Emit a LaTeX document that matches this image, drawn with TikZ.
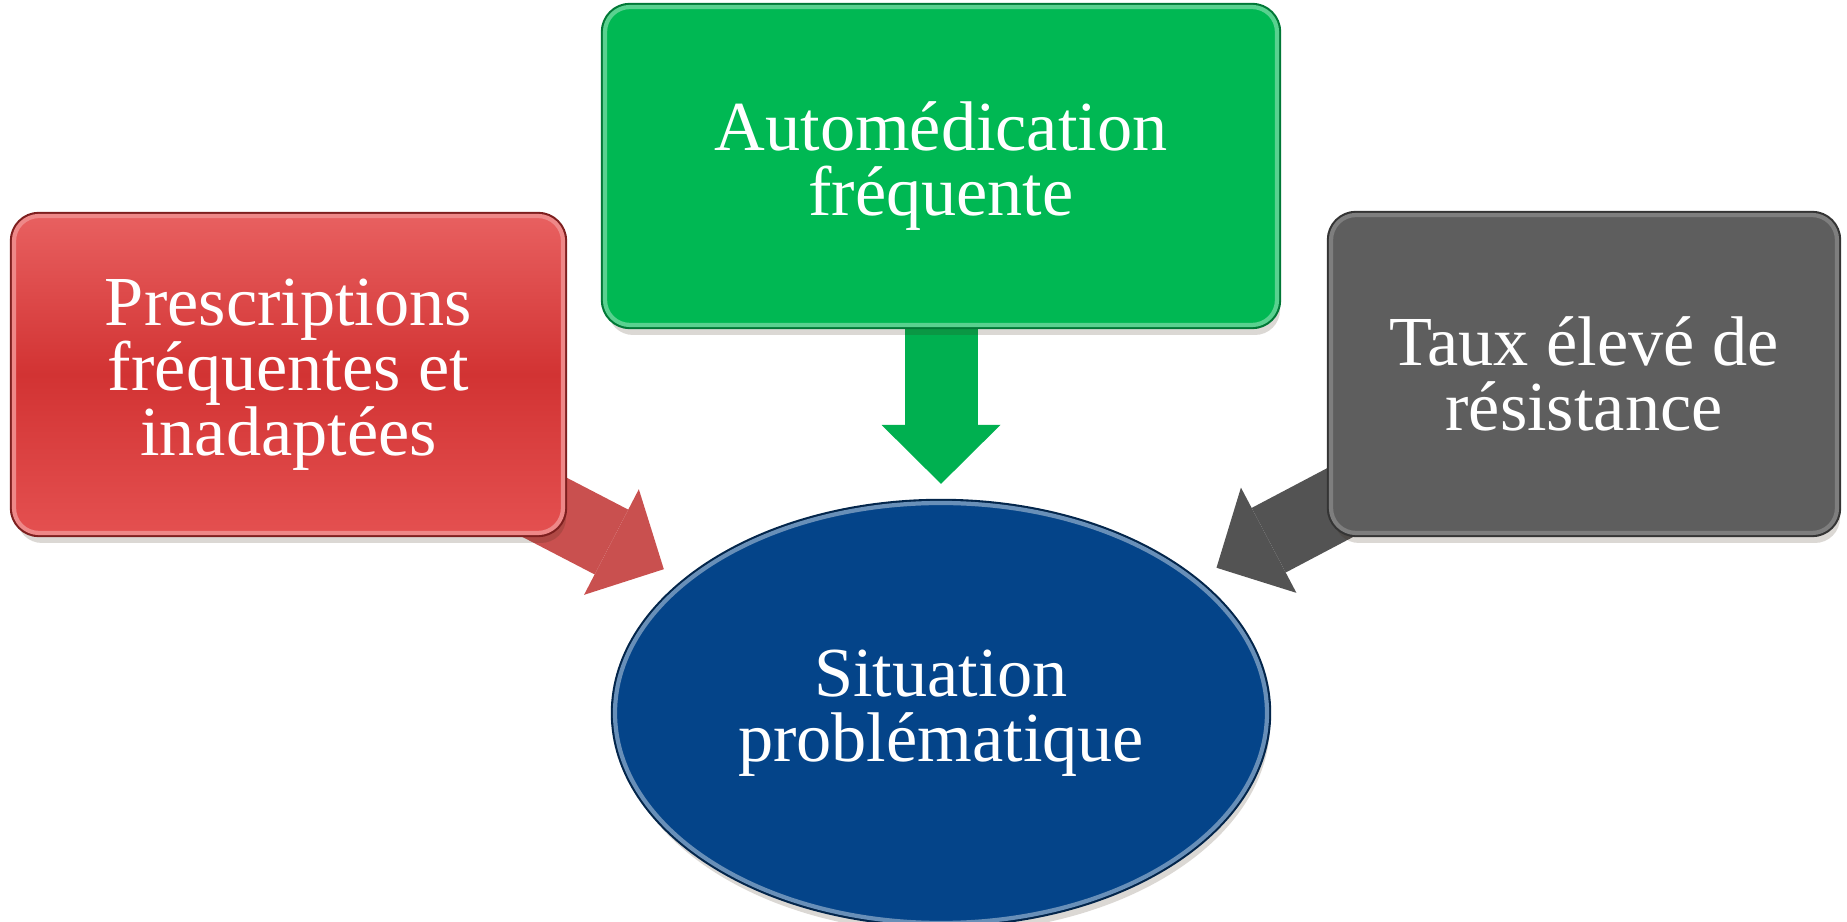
\documentclass[tikz,border=0pt]{standalone}
\usepackage{fontspec}
\setmainfont{Liberation Serif}
\usetikzlibrary{arrows.meta,backgrounds,shadows,shapes.geometric}

\definecolor{redtop}{HTML}{E86060}
\definecolor{redmid}{HTML}{D23333}
\definecolor{redbot}{HTML}{E45050}
\definecolor{redarrow}{HTML}{C9504F}
\definecolor{greenbox}{HTML}{00B853}
\definecolor{greenarrow}{HTML}{00B050}
\definecolor{greybox}{HTML}{5E5E5E}
\definecolor{greyarrow}{HTML}{535353}
\definecolor{bluebox}{HTML}{044489}

\tikzset{
  cause/.style={rectangle, rounded corners=2.5mm, inner sep=0pt, align=center, text=white,
    font=\fontsize{20}{18.5}\selectfont,
    drop shadow={shadow xshift=0.3mm, shadow yshift=-1mm, opacity=.18, fill=black!70!brown}},
  rim/.style 2 args={draw=#1, line width=1.2pt, preaction={draw=#2, line width=2.4pt}},
  flow/.style={line width=7.3mm, shorten >=2.4mm,
    -{Triangle[length=5.9mm,width=11.9mm,line width=0pt]}},
}

\begin{document}
\begin{tikzpicture}
    \useasboundingbox (0,0) rectangle (18.47,-9.22);

    \node[cause, minimum width=5.49cm, minimum height=3.17cm, top color=redtop, bottom color=redbot, middle color=redmid, rim={redtop!75!white}{redmid!60!black}] (presc) at (2.885,-3.745) {Prescriptions\\fréquentes et\\inadaptées};
    \node[cause, minimum width=6.72cm, minimum height=3.18cm, fill=greenbox, rim={greenbox!65!white}{greenbox!65!black}] (auto) at (9.41,-1.66) {Automédication\\fréquente};
    \node[cause, minimum width=5.06cm, minimum height=3.18cm, fill=greybox, rim={greybox!80!white}{greybox!55!black}] (taux) at (15.84,-3.74) {Taux élevé de\\résistance};
    \node[cause, ellipse, minimum width=6.52cm, minimum height=4.2cm, fill=bluebox, rim={bluebox!60!white}{bluebox!55!black}] (sit) at (9.41,-7.13) {Situation\\problématique};

    \begin{scope}[on background layer]
        \draw[flow, redarrow] (presc.center) -- (sit);
        \draw[flow, greenarrow, shorten >=1.7mm] (auto.center) -- (sit);
        \draw[flow, greyarrow] (taux.center) -- (sit);
    \end{scope}
\end{tikzpicture}
\end{document}
